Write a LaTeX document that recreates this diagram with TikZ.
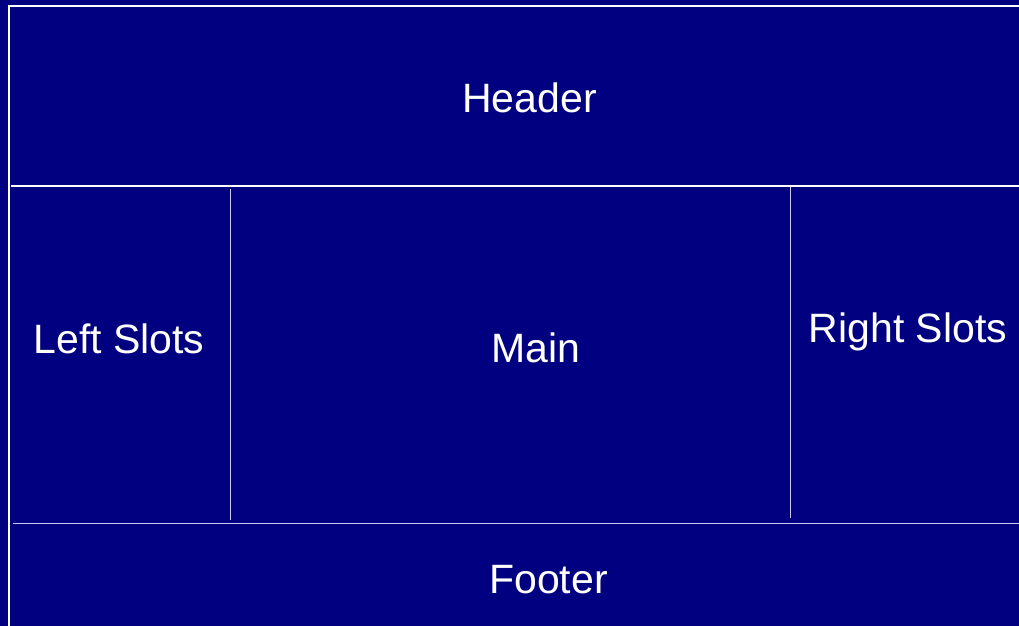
\documentclass[tikz,border=0pt]{standalone}
\usepackage{fontspec}
\setmainfont{Liberation Sans}
\usepackage{xcolor}
\definecolor{navy}{RGB}{0,0,128}
\definecolor{pale}{RGB}{200,200,240}

\begin{document}
\begin{tikzpicture}[x=0.5pt,y=-0.5pt,font=\fontsize{20.5}{24}\selectfont,
  lbl/.style={text=white,anchor=base,inner sep=0pt},
  frame/.style={draw=white,line width=1pt},
  sep/.style={draw=white,line width=0.7pt},
  soft/.style={draw=pale,line width=0.7pt}]
  \fill[navy] (0,0) rectangle (1019,626);
  \useasboundingbox (0,0) rectangle (1019,626);
  % outer frame
  \draw[frame] (8.5,626) -- (8.5,6.5) -- (1019,6.5);
  % separators
  \draw[sep] (11,186) -- (1019,186);
  \draw[soft] (230.5,189) -- (230.5,520);
  \draw[soft] (790.5,187) -- (790.5,518);
  \draw[soft] (13,523.5) -- (1019,523.5);
  % labels
  \node[lbl] (header) at (529.5,113) {Header};
  \node[lbl] (leftslots) at (119,353) {Left Slots};
  \node[lbl] (main) at (535.5,363) {Main};
  \node[lbl] (rightslots) at (908,343) {Right Slots};
  \node[lbl] (footer) at (548.5,593) {Footer};
\end{tikzpicture}
\end{document}
